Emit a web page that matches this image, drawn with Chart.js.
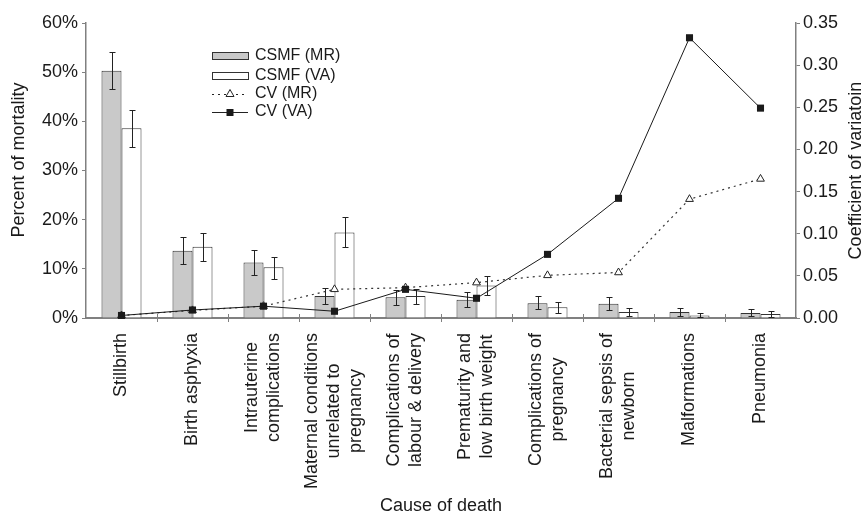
<!DOCTYPE html>
<html>
<head>
<meta charset="utf-8">
<script src="https://cdn.jsdelivr.net/npm/chart.js@4.4.1/dist/chart.umd.min.js"></script>
<style>
  html, body { margin: 0; padding: 0; background: #ffffff; }
  #wrap { width: 866px; height: 515px; position: relative; }
</style>
</head>
<body>
<div id="wrap"><canvas id="c" width="866" height="515"></canvas></div>
<script>
// ---- Data ----
const categories = [
  ['Stillbirth'],
  ['Birth asphyxia'],
  ['Intrauterine', 'complications'],
  ['Maternal conditions', 'unrelated to', 'pregnancy'],
  ['Complications of', 'labour & delivery'],
  ['Prematurity and', 'low birth weight'],
  ['Complications of', 'pregnancy'],
  ['Bacterial sepsis of', 'newborn'],
  ['Malformations'],
  ['Pneumonia']
];
const csmfMR     = [50.3, 13.7, 11.3, 4.5, 4.2, 3.7, 3.0, 2.9, 1.2, 1.0];
const csmfMRLow  = [46.5, 10.9, 8.7, 2.9, 2.6, 2.2, 1.8, 1.7, 0.4, 0.4];
const csmfMRHigh = [54.2, 16.4, 13.8, 6.1, 5.7, 5.2, 4.4, 4.3, 2.0, 1.8];
const csmfVA     = [38.6, 14.5, 10.3, 17.4, 4.5, 6.6, 2.2, 1.2, 0.5, 0.8];
const csmfVALow  = [34.8, 11.6, 7.9, 14.5, 2.9, 4.7, 1.0, 0.4, 0.2, 0.3];
const csmfVAHigh = [42.3, 17.2, 12.5, 20.5, 6.0, 8.5, 3.2, 2.0, 1.0, 1.5];
const cvMR = [0.003, 0.009, 0.014, 0.034, 0.036, 0.042, 0.0506, 0.054, 0.141, 0.165];
const cvVA = [0.003, 0.0095, 0.014, 0.008, 0.034, 0.0234, 0.0755, 0.142, 0.3325, 0.249];
const leftTicks = [0, 10, 20, 30, 40, 50, 60];
const rightTicks = [0, 0.05, 0.10, 0.15, 0.20, 0.25, 0.30, 0.35];

const FONT = "'Liberation Sans', Arial, Helvetica, sans-serif";
const TEXT = '#1a1a1a';
const AXIS = '#808080';
const GRAYBAR = '#c9c9c9';

const errorBars = {
  id: 'errorBars',
  afterDatasetDraw(chart, args) {
    const ds = chart.data.datasets[args.index];
    if (!ds.errLow) return;
    const y = chart.scales.y;
    const ctx = chart.ctx;
    ctx.save();
    ctx.strokeStyle = '#222';
    ctx.lineWidth = 1;
    args.meta.data.forEach((bar, i) => {
      const x = Math.round(bar.x) + 0.5;
      const yl = Math.round(y.getPixelForValue(ds.errLow[i])) + 0.5;
      const yh = Math.round(y.getPixelForValue(ds.errHigh[i])) + 0.5;
      ctx.beginPath();
      ctx.moveTo(x, yl); ctx.lineTo(x, yh);
      ctx.moveTo(x - 3, yh); ctx.lineTo(x + 3, yh);
      ctx.moveTo(x - 3, yl); ctx.lineTo(x + 3, yl);
      ctx.stroke();
    });
    ctx.restore();
  }
};

const extras = {
  id: 'extras',
  afterDraw(chart) {
    const ctx = chart.ctx;
    const xs = chart.scales.x;
    const area = chart.chartArea;
    ctx.save();
    ctx.fillStyle = TEXT;
    ctx.font = '18px ' + FONT;
    // category labels, rotated, lines centred on each other
    const lh = 22;
    const top = area.bottom + 15;
    categories.forEach((lines, i) => {
      const cx = xs.getPixelForValue(i);
      const maxW = Math.max(...lines.map(l => ctx.measureText(l).width));
      const cy = top + maxW / 2;
      ctx.save();
      ctx.translate(cx, cy);
      ctx.rotate(-Math.PI / 2);
      ctx.textAlign = 'center';
      ctx.textBaseline = 'middle';
      lines.forEach((l, k) => {
        ctx.fillText(l, 0, (k - (lines.length - 1) / 2) * lh);
      });
      ctx.restore();
    });
    // x tick marks crossing the axis
    ctx.strokeStyle = AXIS;
    ctx.lineWidth = 1;
    for (let i = 1; i < categories.length; i++) {
      const x = Math.round((xs.getPixelForValue(i - 1) + xs.getPixelForValue(i)) / 2) + 0.5;
      ctx.beginPath();
      ctx.moveTo(x, area.bottom - 4);
      ctx.lineTo(x, area.bottom + 4);
      ctx.stroke();
    }
    // axis titles
    ctx.textAlign = 'center';
    ctx.textBaseline = 'middle';
    ctx.fillText('Cause of death', (area.left + area.right) / 2, 506);
    ctx.save();
    ctx.translate(19, 160);
    ctx.rotate(-Math.PI / 2);
    ctx.fillText('Percent of mortality', 0, 0);
    ctx.restore();
    ctx.save();
    ctx.translate(856, (area.top + area.bottom) / 2);
    ctx.rotate(-Math.PI / 2);
    ctx.fillText('Coefficient of variatoin', 0, 0);
    ctx.restore();

    // legend
    ctx.font = '16px ' + FONT;
    ctx.textAlign = 'left';
    const lx = 212, lw = 36, tx = 255;
    const rows = [55.5, 75.5, 94, 112];
    ctx.lineWidth = 1;
    ctx.strokeStyle = '#333';
    ctx.fillStyle = GRAYBAR;
    ctx.fillRect(lx, 52, lw, 7);
    ctx.strokeRect(lx + 0.5, 52.5, lw, 7);
    ctx.fillStyle = '#fff';
    ctx.fillRect(lx, 72, lw, 7);
    ctx.strokeRect(lx + 0.5, 72.5, lw, 7);
    // CV (MR)
    ctx.strokeStyle = '#222';
    ctx.setLineDash([2, 4]);
    ctx.beginPath(); ctx.moveTo(lx, rows[2] + 0.5); ctx.lineTo(lx + lw, rows[2] + 0.5); ctx.stroke();
    ctx.setLineDash([]);
    const tcx = lx + lw / 2, tcy = rows[2];
    ctx.fillStyle = '#fff';
    ctx.beginPath();
    ctx.moveTo(tcx, tcy - 4.5); ctx.lineTo(tcx + 4, tcy + 2.5); ctx.lineTo(tcx - 4, tcy + 2.5); ctx.closePath();
    ctx.fill(); ctx.stroke();
    // CV (VA)
    ctx.beginPath(); ctx.moveTo(lx, rows[3] + 0.5); ctx.lineTo(lx + lw, rows[3] + 0.5); ctx.stroke();
    ctx.fillStyle = '#1a1a1a';
    ctx.fillRect(tcx - 3.5, rows[3] - 3, 7, 7);
    ctx.fillStyle = TEXT;
    ctx.textBaseline = 'middle';
    ctx.fillText('CSMF (MR)', tx, rows[0]);
    ctx.fillText('CSMF (VA)', tx, rows[1]);
    ctx.fillText('CV (MR)', tx, rows[2]);
    ctx.fillText('CV (VA)', tx, rows[3]);
    ctx.restore();
  }
};

Chart.defaults.font.family = FONT;
Chart.defaults.font.size = 18;
Chart.defaults.color = TEXT;

new Chart(document.getElementById('c'), {
  type: 'bar',
  data: {
    labels: categories.map(c => c.join(' ')),
    datasets: [
      {
        type: 'line', label: 'CV (VA)', data: cvVA, yAxisID: 'y1', order: 0,
        borderColor: '#1a1a1a', borderWidth: 1, backgroundColor: '#1a1a1a',
        pointStyle: 'rect', pointRadius: 5, pointBorderWidth: 0,
        pointBackgroundColor: '#1a1a1a', tension: 0, clip: false
      },
      {
        type: 'line', label: 'CV (MR)', data: cvMR, yAxisID: 'y1', order: 0,
        borderColor: '#333', borderWidth: 1.2, borderDash: [2, 4],
        pointStyle: 'triangle', pointRadius: 4.5, pointBorderWidth: 1,
        pointBorderColor: '#222', pointBackgroundColor: '#fff', tension: 0, clip: false
      },
      {
        label: 'CSMF (MR)', data: csmfMR, yAxisID: 'y', order: 1,
        backgroundColor: GRAYBAR, borderColor: '#333', borderWidth: 1,
        errLow: csmfMRLow, errHigh: csmfMRHigh,
        categoryPercentage: 40 / 71, barPercentage: 1
      },
      {
        label: 'CSMF (VA)', data: csmfVA, yAxisID: 'y', order: 1,
        backgroundColor: '#ffffff', borderColor: '#333', borderWidth: 1,
        errLow: csmfVALow, errHigh: csmfVAHigh,
        categoryPercentage: 40 / 71, barPercentage: 1
      }
    ]
  },
  options: {
    responsive: false,
    animation: false,
    layout: { padding: { top: 23, left: 0, right: 0, bottom: 0 } },
    plugins: { legend: { display: false }, tooltip: { enabled: false } },
    scales: {
      x: {
        type: 'category',
        offset: true,
        ticks: { display: false },
        grid: { display: false },
        border: { display: true, color: AXIS, width: 2 },
        afterFit(s) { s.height = 197; }
      },
      y: {
        position: 'left',
        min: 0, max: 60,
        afterBuildTicks(s) { s.ticks = leftTicks.map(v => ({ value: v })); },
        ticks: { callback: v => v + '%', padding: 4, color: TEXT },
        grid: { drawOnChartArea: false, tickLength: 4, color: AXIS },
        border: { display: true, color: AXIS, width: 1.5 },
        afterFit(s) { s.width = 86; }
      },
      y1: {
        position: 'right',
        min: 0, max: 0.35,
        afterBuildTicks(s) { s.ticks = rightTicks.map(v => ({ value: v })); },
        ticks: { callback: v => v.toFixed(2), padding: 3, color: TEXT },
        grid: { drawOnChartArea: false, tickLength: 4, color: AXIS },
        border: { display: true, color: AXIS, width: 1.5 },
        afterFit(s) { s.width = 70; }
      }
    }
  },
  plugins: [errorBars, extras]
});
</script>
</body>
</html>
